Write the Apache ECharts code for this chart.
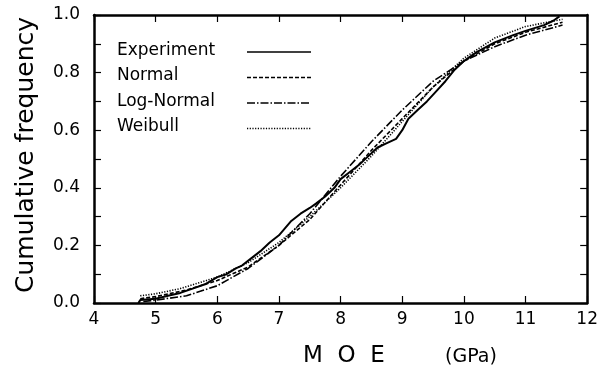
<!DOCTYPE html>
<html><head><meta charset="utf-8">
<script src="https://cdn.jsdelivr.net/npm/echarts@6/dist/echarts.min.js"></script>
<style>html,body{margin:0;padding:0;background:#fff}#c{width:601px;height:372px}</style>
</head><body><div id="c"></div>
<script>
// MOE (GPa) vs cumulative frequency
const experiment = [[4.72,0.0],[4.75,0.01],[5.0,0.015],[5.2,0.025],[5.4,0.035],[5.6,0.05],[5.8,0.065],[6.0,0.09],[6.15,0.10],[6.3,0.12],[6.4,0.13],[6.55,0.155],[6.7,0.18],[6.85,0.21],[7.0,0.235],[7.1,0.26],[7.2,0.285],[7.35,0.31],[7.5,0.33],[7.6,0.345],[7.75,0.37],[7.9,0.40],[8.0,0.43],[8.15,0.455],[8.3,0.48],[8.45,0.51],[8.6,0.54],[8.75,0.555],[8.9,0.57],[9.0,0.60],[9.1,0.64],[9.25,0.67],[9.4,0.70],[9.55,0.735],[9.7,0.77],[9.85,0.81],[10.0,0.84],[10.2,0.87],[10.5,0.905],[10.8,0.93],[11.0,0.945],[11.3,0.965],[11.45,0.98],[11.55,0.995]];
const normal = [[4.75,0.015],[5.0,0.022],[5.5,0.045],[6.0,0.078],[6.5,0.125],[7.0,0.20],[7.5,0.29],[8.0,0.41],[8.5,0.53],[9.0,0.64],[9.5,0.75],[10.0,0.84],[10.5,0.90],[11.0,0.94],[11.6,0.975]];
const logNormal = [[4.8,0.005],[5.0,0.01],[5.5,0.025],[6.0,0.06],[6.5,0.12],[7.0,0.20],[7.5,0.31],[8.0,0.44],[8.5,0.56],[9.0,0.67],[9.5,0.77],[10.0,0.84],[10.5,0.89],[11.0,0.93],[11.6,0.965]];
const weibull = [[4.75,0.025],[5.0,0.032],[5.4,0.05],[6.0,0.09],[6.5,0.14],[7.0,0.21],[7.5,0.30],[8.0,0.40],[8.5,0.51],[9.0,0.63],[9.5,0.75],[10.0,0.85],[10.5,0.92],[11.0,0.96],[11.6,0.985]];
const legendNames = ['Experiment','Normal','Log-Normal','Weibull'];
const xTitle = 'M  O  E';
const xUnit = '(GPa)';
const yTitle = 'Cumulative frequency';

const F = 'DejaVu Sans';
const chart = echarts.init(document.getElementById('c'));
const axisLine = {show:true, onZero:false, lineStyle:{color:'#000', width:2.5}};
const tick = {show:true, inside:true, length:7, lineStyle:{color:'#000', width:1.2}};
const dashes = ['solid',[4,2],[8,2,1.5,2],[1.2,1.5]];
const sets = [experiment, normal, logNormal, weibull];
const series = sets.map((d,i)=>({
  type:'line', name:legendNames[i], data:d, symbol:'none', silent:true,
  lineStyle:{color:'#000', width:i===0?2:1.6, type:dashes[i]}
}));
const legendGraphics = [];
legendNames.forEach((n,i)=>{
  const y = 52 + i*25.5;
  legendGraphics.push({type:'text', left:117, top:y-10, style:{text:n, font:'17px "'+F+'"', fill:'#000'}});
  legendGraphics.push({type:'line', shape:{x1:247,y1:y,x2:311,y2:y}, style:{stroke:'#000', lineWidth:1.4, lineDash:dashes[i]==='solid'?null:dashes[i]}});
});
chart.setOption({
  animation:false,
  grid:{left:94, right:12, top:15, bottom:69},
  xAxis:[
    {type:'value', min:4, max:12, interval:1, position:'bottom', axisLine, axisTick:tick, splitLine:{show:false},
     axisLabel:{color:'#000', fontFamily:F, fontSize:17, margin:8}},
    {type:'value', min:4, max:12, interval:1, position:'top', axisLine, axisTick:tick, splitLine:{show:false}, axisLabel:{show:false}}
  ],
  yAxis:[
    {type:'value', min:0, max:1, interval:0.2, position:'left', axisLine, axisTick:tick,
     minorTick:{show:true, splitNumber:2, length:7, lineStyle:{color:'#000', width:1.2}}, splitLine:{show:false},
     axisLabel:{color:'#000', fontFamily:F, fontSize:17, margin:14, formatter:v=>v.toFixed(1)}},
    {type:'value', min:0, max:1, interval:0.2, position:'right', axisLine, axisTick:tick,
     minorTick:{show:true, splitNumber:2, length:7, lineStyle:{color:'#000', width:1.2}}, splitLine:{show:false}, axisLabel:{show:false}}
  ],
  series,
  graphic:[
    {type:'text', x:26, y:155, rotation:Math.PI/2, style:{text:yTitle, font:'25px "'+F+'"', fill:'#000', align:'center', verticalAlign:'middle'}},
    {type:'text', left:303, top:345, style:{text:xTitle, font:'23px "'+F+'"', fill:'#000'}},
    {type:'text', left:445, top:348, style:{text:xUnit, font:'19px "'+F+'"', fill:'#000'}}
  ].concat(legendGraphics)
});
</script></body></html>
